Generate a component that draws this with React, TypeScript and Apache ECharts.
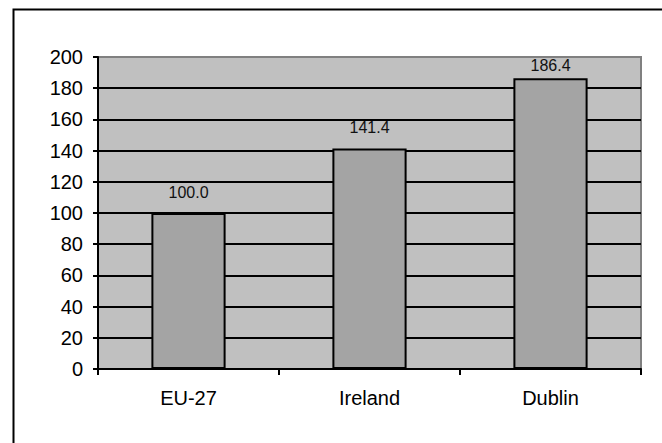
import React, { useEffect, useRef } from "react";
import * as echarts from "echarts";

const categories = ["EU-27", "Ireland", "Dublin"];
const values = [100.0, 141.4, 186.4];
const yTicks = { min: 0, max: 200, interval: 20 };

export default function App() {
  const ref = useRef<HTMLDivElement>(null);

  useEffect(() => {
    if (!ref.current) return;
    const chart = echarts.init(ref.current, undefined, { renderer: "svg" });
    const font = "'Liberation Sans', Arial, sans-serif";
    const labelSize = 16;
    const labelGap = 13;
    // black gridlines, except the one on the top edge which shares the frame's grey
    const splitColors: string[] = [];
    const nLines = (yTicks.max - yTicks.min) / yTicks.interval + 1;
    for (let i = 0; i < nLines; i++) splitColors.push(i === nLines - 1 ? "#808080" : "#000000");

    chart.setOption({
      animation: false,
      backgroundColor: "#ffffff",
      graphic: [
        {
          type: "rect",
          left: 11,
          top: 7,
          shape: { x: 0, y: 0, width: 720, height: 520 },
          style: { fill: "none", stroke: "#000000", lineWidth: 2 },
          z: 100,
          silent: true,
        },
      ],
      grid: {
        left: 98,
        top: 57,
        right: 21,
        bottom: 74,
        show: true,
        backgroundColor: "#C0C0C0",
        borderColor: "#808080",
        borderWidth: 2,
      },
      xAxis: {
        type: "category",
        data: categories,
        boundaryGap: true,
        axisLine: { show: true, lineStyle: { color: "#000", width: 2 } },
        axisTick: { show: true, alignWithLabel: false, length: 6, lineStyle: { color: "#000", width: 2 } },
        axisLabel: { color: "#000", fontSize: 20, fontFamily: font, margin: 19 },
        splitLine: { show: false },
      },
      yAxis: {
        type: "value",
        min: yTicks.min,
        max: yTicks.max,
        interval: yTicks.interval,
        axisLine: { show: true, lineStyle: { color: "#000", width: 2 } },
        axisTick: { show: true, length: 5, lineStyle: { color: "#000", width: 2 } },
        axisLabel: { color: "#000", fontSize: 20, fontFamily: font, margin: 15 },
        splitLine: { show: true, lineStyle: { color: splitColors, width: 2 } },
      },
      series: [
        {
          type: "bar",
          data: values,
          barWidth: "41%",
          itemStyle: { color: "#A4A4A4", borderColor: "#000", borderWidth: 2 },
          label: {
            show: true,
            position: "top",
            distance: labelGap,
            color: "#111",
            fontSize: labelSize,
            fontFamily: font,
            formatter: (p: any) => Number(p.value).toFixed(1),
          },
        },
      ],
    });

    // keep value labels inside the plot area: tall bars get their label pulled closer
    const topPx = chart.convertToPixel({ yAxisIndex: 0 }, yTicks.max) as number;
    const data = values.map((v) => {
      const barTop = chart.convertToPixel({ yAxisIndex: 0 }, v) as number;
      const room = barTop - topPx - labelSize;
      return room < labelGap ? { value: v, label: { distance: Math.max(2, room) } } : v;
    });
    chart.setOption({ series: [{ data }] });

    return () => chart.dispose();
  }, []);

  return (
    <div
      ref={ref}
      style={{ position: "absolute", left: 0, top: 0, width: 662, height: 443 }}
    />
  );
}
